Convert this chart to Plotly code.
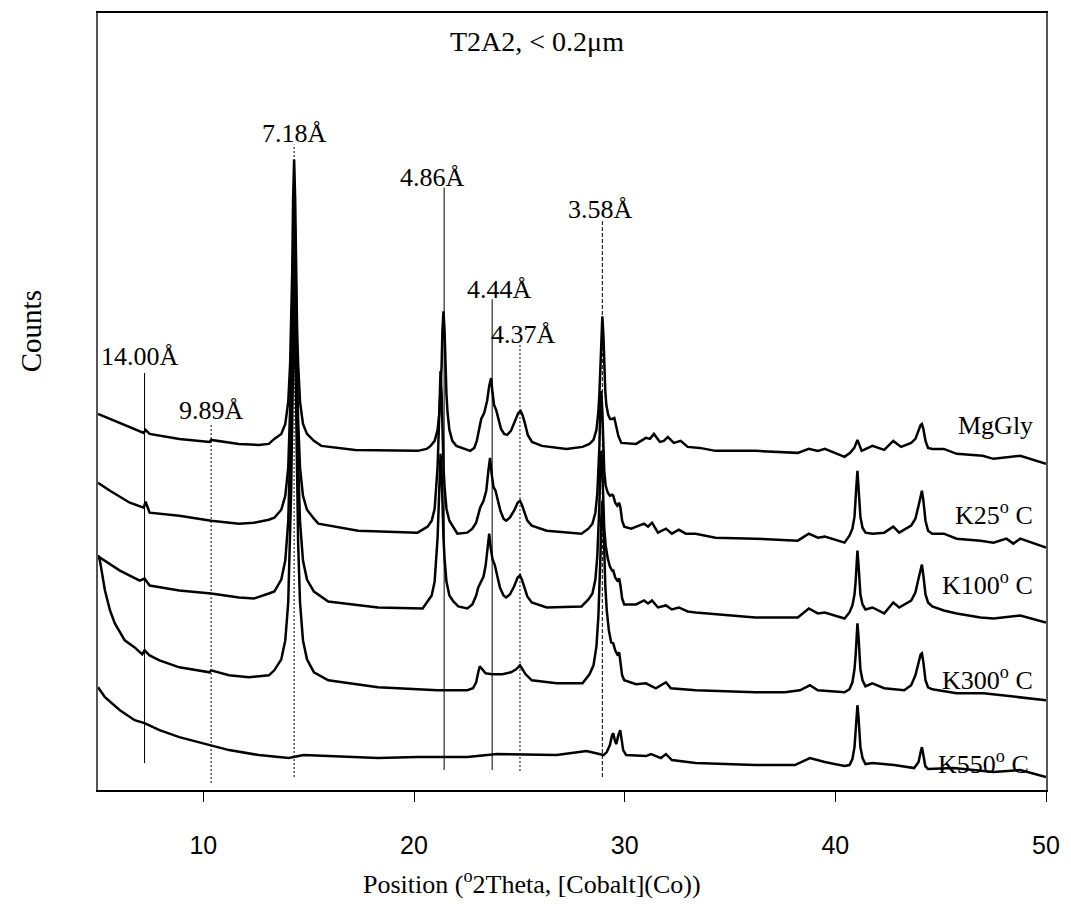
import plotly.graph_objects as go

# ---------------- data ----------------
# each point: (position in degrees 2-theta, counts in arbitrary units; patterns stacked)
mggly_pts = [
    (5.00, 377), (5.57, 372), (6.51, 363), (7.17, 358), (7.26, 361), (7.45, 357), (8.86, 352),
    (10.30, 349), (10.37, 351), (11.69, 347), (12.63, 346), (13.11, 347), (13.37, 352), (13.70, 357),
    (13.89, 367), (14.03, 389), (14.12, 427), (14.17, 463), (14.22, 520), (14.26, 592), (14.31, 632),
    (14.36, 592), (14.40, 520), (14.45, 463), (14.50, 427), (14.59, 389), (14.73, 367), (14.92, 357),
    (15.25, 350), (15.60, 345), (17.21, 341), (20.17, 340), (20.60, 342), (20.79, 345), (20.98, 350),
    (21.12, 361), (21.21, 379), (21.26, 397), (21.31, 425), (21.35, 461), (21.40, 480), (21.45, 461),
    (21.49, 425), (21.54, 397), (21.59, 379), (21.68, 361), (21.82, 350), (22.01, 345), (22.67, 340),
    (22.86, 343), (22.98, 350), (23.10, 365), (23.19, 372), (23.33, 378), (23.47, 390), (23.57, 405),
    (23.66, 413), (23.73, 398), (23.80, 386), (23.90, 381), (24.00, 372), (24.13, 362), (24.28, 357),
    (24.42, 356), (24.60, 360), (24.80, 370), (24.95, 378), (25.06, 380), (25.15, 376), (25.26, 368),
    (25.40, 356), (25.60, 349), (26.07, 345), (27.24, 342), (28.00, 344), (28.33, 347), (28.52, 351),
    (28.66, 361), (28.75, 379), (28.80, 397), (28.85, 423), (28.89, 456), (28.94, 475), (28.99, 456),
    (29.03, 425), (29.08, 400), (29.13, 386), (29.22, 376), (29.31, 372), (29.41, 372), (29.51, 373),
    (29.60, 365), (29.70, 355), (29.84, 348), (30.54, 347), (31.01, 353), (31.20, 352), (31.39, 357),
    (31.67, 349), (31.86, 350), (32.05, 354), (32.33, 348), (32.66, 350), (32.99, 344), (33.56, 343),
    (34.31, 340), (36.20, 340), (38.22, 338), (38.74, 342), (39.17, 340), (39.50, 342), (40.44, 334),
    (40.70, 338), (40.90, 343), (41.00, 349), (41.05, 351), (41.12, 347), (41.25, 340), (41.45, 342),
    (41.76, 345), (42.32, 341), (42.75, 350), (43.12, 344), (43.60, 348), (43.80, 352), (43.95, 360),
    (44.05, 366), (44.11, 367), (44.18, 362), (44.28, 350), (44.40, 343), (44.60, 342), (45.15, 342),
    (45.76, 337), (46.99, 335), (47.51, 332), (48.78, 335), (50.00, 327),
]

k25_pts = [
    (5.00, 308), (5.57, 300), (6.51, 288), (7.17, 283), (7.26, 289), (7.45, 278), (8.86, 275),
    (10.37, 270), (11.69, 267), (12.40, 268), (13.11, 271), (13.37, 273), (13.70, 281), (13.89, 295),
    (14.03, 323), (14.12, 371), (14.17, 415), (14.22, 478), (14.26, 552), (14.31, 590), (14.36, 552),
    (14.40, 478), (14.45, 415), (14.50, 371), (14.59, 323), (14.73, 295), (14.92, 281), (15.25, 272),
    (15.46, 267), (17.35, 260), (20.17, 258), (20.65, 264), (20.84, 270), (20.98, 282), (21.07, 304),
    (21.12, 324), (21.17, 357), (21.21, 398), (21.26, 420), (21.31, 398), (21.35, 357), (21.40, 324),
    (21.45, 304), (21.54, 282), (21.68, 270), (21.87, 264), (22.06, 257), (22.53, 258), (22.77, 262),
    (22.95, 268), (23.05, 277), (23.14, 283), (23.30, 290), (23.43, 300), (23.53, 320), (23.61, 333),
    (23.68, 318), (23.77, 304), (23.87, 300), (23.97, 290), (24.10, 280), (24.25, 272), (24.37, 270),
    (24.55, 273), (24.75, 280), (24.92, 288), (25.03, 290), (25.12, 286), (25.24, 278), (25.38, 270),
    (25.59, 265), (26.30, 260), (27.95, 257), (28.28, 262), (28.47, 267), (28.61, 278), (28.70, 297),
    (28.75, 316), (28.80, 344), (28.84, 380), (28.89, 400), (28.94, 380), (28.98, 344), (29.03, 320),
    (29.10, 305), (29.20, 298), (29.30, 295), (29.40, 296), (29.46, 295), (29.55, 288), (29.65, 285),
    (29.74, 288), (29.80, 283), (29.88, 270), (29.98, 264), (30.31, 262), (30.92, 267), (31.11, 264),
    (31.30, 268), (31.58, 258), (31.96, 262), (32.24, 257), (32.57, 261), (32.90, 257), (33.37, 257),
    (34.31, 253), (36.20, 252), (38.22, 250), (38.74, 257), (39.17, 253), (39.50, 254), (40.44, 248),
    (40.67, 255), (40.81, 262), (40.91, 274), (40.96, 287), (41.00, 305), (41.05, 320), (41.10, 305),
    (41.14, 287), (41.19, 274), (41.29, 263), (41.43, 258), (41.76, 257), (42.32, 258), (42.75, 264),
    (43.03, 258), (43.60, 265), (43.80, 272), (43.95, 285), (44.05, 297), (44.11, 300), (44.18, 290),
    (44.28, 270), (44.40, 260), (44.60, 257), (45.15, 257), (45.76, 252), (46.89, 250), (47.51, 248),
    (48.12, 252), (48.45, 247), (48.78, 252), (50.00, 243),
]

k100_pts = [
    (5.00, 235), (5.09, 233), (6.04, 220), (6.98, 210), (7.21, 212), (7.45, 205), (8.86, 200),
    (10.37, 197), (11.69, 193), (12.40, 192), (13.11, 197), (13.37, 199), (13.70, 211), (13.89, 230),
    (14.03, 269), (14.12, 329), (14.17, 379), (14.22, 444), (14.26, 510), (14.31, 540), (14.36, 510),
    (14.40, 444), (14.45, 379), (14.50, 329), (14.59, 269), (14.73, 230), (14.92, 211), (15.25, 199),
    (15.93, 189), (18.29, 183), (20.41, 182), (20.65, 189), (20.84, 195), (20.98, 209), (21.07, 232),
    (21.12, 253), (21.17, 283), (21.21, 319), (21.26, 337), (21.31, 319), (21.35, 283), (21.40, 253),
    (21.45, 232), (21.54, 209), (21.68, 195), (21.87, 189), (22.10, 184), (22.53, 182), (22.77, 186),
    (22.95, 195), (23.05, 203), (23.14, 207), (23.30, 214), (23.40, 225), (23.50, 245), (23.57, 257),
    (23.64, 243), (23.73, 231), (23.83, 226), (23.94, 215), (24.08, 203), (24.25, 195), (24.37, 193),
    (24.55, 196), (24.75, 204), (24.92, 213), (25.03, 215), (25.12, 211), (25.24, 203), (25.38, 194),
    (25.59, 188), (26.30, 183), (27.95, 184), (28.28, 191), (28.47, 197), (28.61, 211), (28.70, 234),
    (28.75, 255), (28.80, 286), (28.84, 322), (28.89, 340), (28.94, 322), (28.98, 286), (29.03, 262),
    (29.10, 245), (29.20, 232), (29.30, 224), (29.40, 220), (29.46, 220), (29.55, 213), (29.65, 210),
    (29.74, 212), (29.80, 205), (29.88, 192), (29.98, 186), (30.54, 186), (30.92, 190), (31.11, 187),
    (31.30, 190), (31.58, 183), (31.96, 185), (32.24, 181), (32.57, 183), (32.99, 179), (33.37, 178),
    (35.25, 175), (36.20, 173), (38.22, 173), (38.74, 182), (39.17, 177), (39.50, 178), (40.44, 172),
    (40.67, 178), (40.81, 185), (40.91, 196), (40.96, 208), (41.00, 226), (41.05, 240), (41.10, 226),
    (41.14, 208), (41.19, 196), (41.29, 186), (41.43, 181), (41.76, 183), (42.32, 177), (42.75, 188),
    (43.03, 183), (43.60, 190), (43.80, 198), (43.95, 212), (44.05, 223), (44.11, 226), (44.18, 215),
    (44.28, 196), (44.40, 188), (44.60, 184), (45.15, 180), (45.76, 177), (46.89, 173), (47.51, 172),
    (48.78, 175), (50.00, 168),
]

k300_pts = [
    (5.00, 235), (5.09, 230), (5.33, 200), (5.57, 180), (5.80, 167), (6.27, 150), (6.74, 143),
    (7.10, 136), (7.21, 140), (7.45, 135), (7.92, 130), (8.86, 123), (10.30, 118), (10.37, 120),
    (11.22, 115), (12.16, 113), (13.11, 115), (13.37, 120), (13.70, 131), (13.89, 150), (14.03, 188),
    (14.12, 248), (14.17, 301), (14.22, 374), (14.26, 452), (14.31, 490), (14.36, 452), (14.40, 374),
    (14.45, 301), (14.50, 248), (14.59, 188), (14.73, 150), (14.92, 131), (15.25, 118), (15.93, 110),
    (18.29, 103), (21.12, 100), (22.53, 100), (22.80, 102), (22.95, 108), (23.05, 118), (23.12, 124),
    (23.20, 122), (23.40, 117), (23.70, 116), (24.20, 116), (24.60, 118), (24.85, 121), (25.03, 125),
    (25.15, 121), (25.30, 116), (25.59, 110), (26.77, 107), (28.00, 107), (28.33, 116), (28.52, 125),
    (28.66, 144), (28.75, 173), (28.80, 199), (28.85, 234), (28.89, 272), (28.94, 290), (28.99, 272),
    (29.03, 234), (29.08, 205), (29.15, 180), (29.25, 160), (29.36, 148), (29.46, 147), (29.55, 140),
    (29.65, 136), (29.74, 138), (29.80, 130), (29.88, 115), (29.98, 110), (30.54, 106), (31.01, 107),
    (31.48, 102), (31.96, 108), (32.19, 102), (33.37, 100), (36.20, 98), (37.61, 98), (38.32, 100),
    (38.79, 105), (39.17, 100), (40.44, 98), (40.67, 101), (40.81, 108), (40.91, 121), (40.96, 134),
    (41.00, 154), (41.05, 167), (41.10, 154), (41.14, 134), (41.19, 121), (41.29, 110), (41.43, 104),
    (41.76, 107), (42.32, 102), (43.27, 100), (43.60, 105), (43.80, 115), (43.95, 128), (44.05, 136),
    (44.11, 137), (44.18, 128), (44.28, 110), (44.40, 103), (44.60, 101), (45.76, 97), (47.04, 97),
    (50.00, 90),
]

k550_pts = [
    (5.00, 103), (5.33, 93), (6.04, 80), (6.74, 70), (7.21, 67), (7.92, 60), (8.86, 53), (9.81, 48),
    (10.37, 45), (11.22, 40), (12.63, 35), (14.05, 32), (14.76, 35), (18.29, 32), (20.17, 33),
    (22.53, 33), (23.94, 36), (26.77, 35), (28.19, 39), (28.66, 37), (29.00, 35), (29.15, 38),
    (29.30, 45), (29.40, 55), (29.46, 57), (29.53, 50), (29.60, 46), (29.70, 55), (29.79, 60),
    (29.86, 50), (29.93, 40), (30.07, 35), (31.01, 34), (31.25, 36), (31.72, 32), (31.96, 36),
    (32.24, 30), (33.37, 27), (36.20, 25), (38.08, 25), (38.79, 32), (39.50, 28), (40.44, 24),
    (40.67, 25), (40.81, 31), (40.91, 43), (40.96, 56), (41.00, 73), (41.05, 85), (41.10, 73),
    (41.14, 56), (41.19, 43), (41.29, 32), (41.43, 26), (41.76, 27), (42.79, 25), (43.74, 22),
    (43.95, 28), (44.05, 38), (44.11, 43), (44.17, 36), (44.27, 24), (44.40, 21), (45.62, 22),
    (47.51, 18), (48.78, 20), (50.00, 13),
]

series_names = ["MgGly", "K25° C", "K100° C", "K300° C", "K550° C"]
series_pts = [mggly_pts, k25_pts, k100_pts, k300_pts, k550_pts]

# trace labels on the right: text, x (2theta), y (counts)
label_text = ["MgGly", "K25<sup>o</sup> C", "K100<sup>o</sup> C", "K300<sup>o</sup> C", "K550<sup>o</sup> C"]
label_x = [47.62, 47.53, 47.24, 47.22, 47.05]
label_y = [365, 277, 207, 112, 28]

# d-spacing reference lines
ref_names = ["14.00Å", "9.89Å", "7.18Å", "4.86Å", "4.44Å", "4.37Å", "3.58Å"]
ref_pos = [7.21, 10.37, 14.31, 21.43, 23.71, 25.03, 28.94]
ref_bottom = [27, 7, 13, 20, 20, 19, 13]
ref_top = [418, 367, 647, 604, 492, 447, 572]
ref_dash = ["solid", "2px,2px", "2px,2px", "solid", "solid", "2px,2px", "4px,2px"]
ref_label_x = [6.98, 10.40, 14.31, 20.88, 24.04, 25.22, 28.85]
ref_label_y = [435, 380, 658, 614, 502, 457, 582]

x_ticks = [10, 20, 30, 40, 50]

SERIF = "Liberation Serif, Times New Roman, serif"
SANS = "Liberation Sans Narrow, Arial Narrow, Liberation Sans, Arial, sans-serif"

fig = go.Figure()
for name, pts in zip(series_names, series_pts):
    xs = [p[0] for p in pts]
    ys = [p[1] for p in pts]
    fig.add_trace(go.Scatter(x=xs, y=ys, mode="lines", name=name,
                             line=dict(color="black", width=2.5), showlegend=False))

shapes = []
for xp, yb, yt, dsh in zip(ref_pos, ref_bottom, ref_top, ref_dash):
    shapes.append(dict(type="line", xref="x", yref="y", x0=xp, x1=xp, y0=yb, y1=yt,
                       line=dict(color="black", width=1, dash=dsh), layer="below"))

annotations = []
for t, xl, yl in zip(ref_names, ref_label_x, ref_label_y):
    annotations.append(dict(x=xl, y=yl, xref="x", yref="y", text=t, showarrow=False,
                            xanchor="center", yanchor="middle",
                            font=dict(family=SERIF, size=26, color="black")))
for t, xl, yl in zip(label_text, label_x, label_y):
    annotations.append(dict(x=xl, y=yl, xref="x", yref="y", text=t, showarrow=False,
                            xanchor="center", yanchor="middle",
                            font=dict(family=SERIF, size=26, color="black")))
annotations.append(dict(x=25.83, y=750, xref="x", yref="y", text="T2A2, < 0.2μm", showarrow=False,
                        xanchor="center", yanchor="middle",
                        font=dict(family=SERIF, size=28, color="black")))
annotations.append(dict(x=-0.071, y=0.59, xref="paper", yref="paper", text="Counts", showarrow=False,
                        xanchor="center", yanchor="middle", textangle=-90,
                        font=dict(family=SERIF, size=29, color="black")))
annotations.append(dict(x=0.4576, y=-0.119, xref="paper", yref="paper", xanchor="center",
                        yanchor="middle", text="Position (<sup>o</sup>2Theta, [Cobalt](Co))",
                        showarrow=False, font=dict(family=SERIF, size=26, color="black")))

fig.update_layout(
    width=1071, height=909,
    margin=dict(l=98, r=18, t=11, b=119),
    paper_bgcolor="white", plot_bgcolor="white",
    shapes=shapes, annotations=annotations,
    xaxis=dict(range=[5, 50], tickvals=x_ticks, ticks="outside", ticklen=10, tickwidth=1,
               tickcolor="black", showline=True, linecolor="black", linewidth=1.5, mirror=True,
               showgrid=False, zeroline=False, ticklabelstandoff=22,
               tickfont=dict(family=SANS, size=25, color="black")),
    yaxis=dict(range=[0, 779], showticklabels=False, ticks="", showline=True,
               linecolor="#555555", linewidth=1.5, mirror=True, showgrid=False, zeroline=False),
)

fig.write_html("out.html")
